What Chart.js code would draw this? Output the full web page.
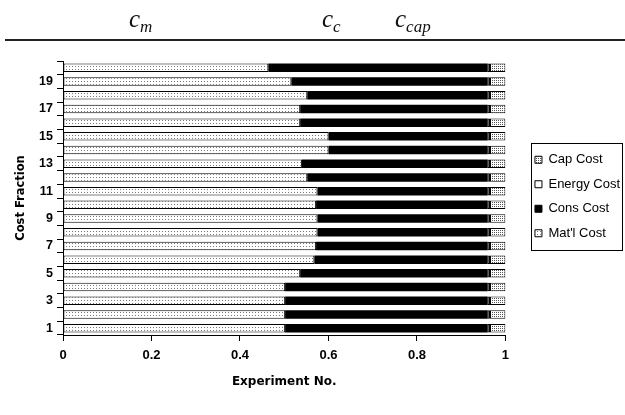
<!DOCTYPE html>
<html>
<head>
<meta charset="utf-8">
<script src="https://cdn.jsdelivr.net/npm/chart.js@4"></script>
<style>
  html, body { margin:0; padding:0; background:#fff; }
  #wrap { position:relative; width:625px; height:415px; }
  canvas { position:absolute; left:0; top:0; }
  .sym { position:absolute; font-family:"Liberation Serif","DejaVu Serif",serif; font-style:italic; font-size:25px; color:#111; line-height:1; }
  .sym sub { font-size:17px; vertical-align:-5px; }
  #rule { position:absolute; left:5px; top:39px; width:620px; height:2px; background:#222; }
</style>
</head>
<body>
<div id="wrap">
  <canvas id="c" width="625" height="415"></canvas>
  <div class="sym" style="left:129px;top:6px;">c<sub>m</sub></div>
  <div class="sym" style="left:322px;top:6px;">c<sub>c</sub></div>
  <div class="sym" style="left:395px;top:6px;">c<sub>cap</sub></div>
  <div id="rule"></div>
</div>
<script>
const experiments = ['1','2','3','4','5','6','7','8','9','10','11','12','13','14','15','16','17','18','19','20'];
const matlCost   = [0.502,0.502,0.502,0.502,0.536,0.568,0.572,0.575,0.575,0.572,0.575,0.552,0.540,0.600,0.600,0.536,0.536,0.552,0.516,0.464];
const consCost   = [0.458,0.458,0.458,0.458,0.424,0.392,0.388,0.385,0.385,0.388,0.385,0.408,0.420,0.360,0.360,0.424,0.424,0.408,0.444,0.496];
const energyCost = [0.005,0.005,0.005,0.005,0.005,0.005,0.005,0.005,0.005,0.005,0.005,0.005,0.005,0.005,0.005,0.005,0.005,0.005,0.005,0.005];
const capCost    = [0.035,0.035,0.035,0.035,0.035,0.035,0.035,0.035,0.035,0.035,0.035,0.035,0.035,0.035,0.035,0.035,0.035,0.035,0.035,0.035];
const xTicks = [0, 0.2, 0.4, 0.6, 0.8, 1];
const xTickLabels = ['0', '0.2', '0.4', '0.6', '0.8', '1'];

function dotPattern(bg, dot, step) {
  const p = document.createElement('canvas');
  p.width = step; p.height = step;
  const g = p.getContext('2d');
  g.fillStyle = bg; g.fillRect(0,0,step,step);
  g.fillStyle = dot; g.fillRect(0,0,1,1);
  return document.getElementById('c').getContext('2d').createPattern(p, 'repeat');
}
const matlFill = dotPattern('#ffffff', '#777777', 3);
const capFill = dotPattern('#ffffff', '#555555', 2);

const legendPlace = {
  id: 'legendPlace',
  afterLayout(chart) {
    const lg = chart.legend;
    if (!lg) return;
    const dx = 18, dy = -29;
    lg.left += dx; lg.right += dx;
    lg.top += dy; lg.bottom += dy;
  },
  afterDraw(chart) {
    const lg = chart.legend;
    if (!lg || !lg.legendHitBoxes || !lg.legendHitBoxes.length) return;
    const hb = lg.legendHitBoxes;
    const top = hb[0].top - 10, bottom = hb[hb.length-1].top + hb[hb.length-1].height + 10;
    const left = hb[0].left - 4;
    const ctx = chart.ctx;
    ctx.save();
    ctx.strokeStyle = '#000'; ctx.lineWidth = 1;
    ctx.strokeRect(Math.round(left)+0.5, Math.round(top)+0.5, 622 - Math.round(left), Math.round(bottom - top));
    ctx.restore();
  }
};

Chart.defaults.font.family = 'Liberation Sans, Arial, sans-serif';
Chart.defaults.color = '#000';

new Chart(document.getElementById('c'), {
  type: 'bar',
  data: {
    labels: experiments,
    datasets: [
      { label: "Mat'l Cost", data: matlCost, backgroundColor: matlFill, borderColor: '#000', borderWidth: 1, borderSkipped: false },
      { label: 'Cons Cost', data: consCost, backgroundColor: '#000', borderColor: '#000', borderWidth: 0 },
      { label: 'Energy Cost', data: energyCost, backgroundColor: '#fff', borderColor: '#000', borderWidth: 1, borderSkipped: false },
      { label: 'Cap Cost', data: capCost, backgroundColor: capFill, borderColor: '#000', borderWidth: 1, borderSkipped: false }
    ]
  },
  options: {
    indexAxis: 'y',
    responsive: false,
    animation: false,
    barPercentage: 0.62,
    categoryPercentage: 1,
    layout: { padding: { top: 61, left: 8, right: 13, bottom: 25 } },
    plugins: {
      tooltip: { enabled: false },
      legend: {
        position: 'right',
        reverse: true,
        labels: {
          boxWidth: 7, boxHeight: 7, padding: 11.5,
          font: { size: 13 },
          generateLabels(chart) {
            const items = Chart.defaults.plugins.legend.labels.generateLabels(chart);
            items.forEach(it => { it.lineWidth = 1; it.strokeStyle = '#000'; });
            return items;
          }
        }
      }
    },
    scales: {
      x: {
        stacked: true,
        min: 0, max: 1,
        afterBuildTicks(axis) { axis.ticks = xTicks.map(v => ({ value: v })); },
        ticks: {
          font: { size: 13, weight: 'bold' }, padding: 7, maxRotation: 0,
          callback(v, i) { return xTickLabels[i]; }
        },
        grid: { drawOnChartArea: false, drawTicks: true, tickLength: 6, color: '#000' },
        border: { color: '#000', width: 1 },
        title: { display: true, text: 'Experiment No.', font: { family: 'DejaVu Sans', size: 12, weight: 'bold' }, padding: { top: 10, bottom: 1 } },
        afterFit(s) { s.height = 55; }
      },
      y: {
        stacked: true,
        reverse: true,
        ticks: {
          autoSkip: false,
          font: { size: 12.5, weight: 'bold' },
          padding: 4,
          callback(v, i) { return (i % 2 === 0) ? experiments[i] : ''; }
        },
        grid: { drawOnChartArea: false, drawTicks: true, tickLength: 6, color: '#000', offset: true },
        border: { color: '#000', width: 1 },
        title: { display: true, text: 'Cost Fraction', font: { family: 'DejaVu Sans', size: 11.5, weight: 'bold' }, padding: { top: 6, bottom: 2 } },
        afterFit(s) { s.width = 55; }
      }
    }
  },
  plugins: [legendPlace]
});
</script>
</body>
</html>
